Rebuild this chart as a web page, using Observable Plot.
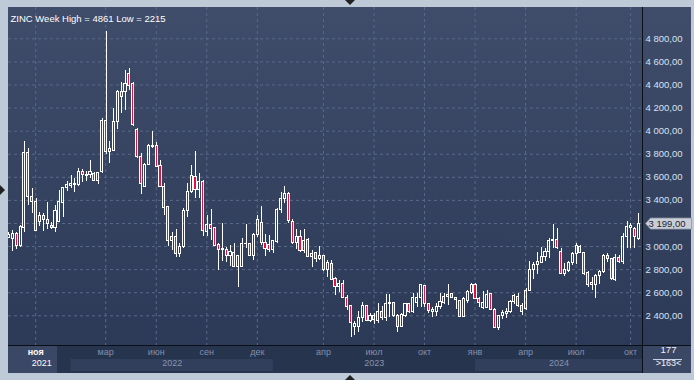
<!DOCTYPE html>
<html><head><meta charset="utf-8">
<script src="https://cdn.jsdelivr.net/npm/d3@7"></script>
<script src="https://cdn.jsdelivr.net/npm/@observablehq/plot@0.6"></script>
<style>
html,body{margin:0;padding:0;background:#bfcad8;}
#wrap{position:relative;width:694px;height:380px;overflow:hidden;background:#bfcad8;font-family:"Liberation Sans",Arial,sans-serif;}
.abs{position:absolute;}
.tri{position:absolute;width:0;height:0;border-style:solid;}
</style></head><body>
<div id="wrap">
  <div class="abs" style="left:8px;top:7px;width:683px;height:338px;background:linear-gradient(#3f4c6a,#2d3a57)"></div>
  <div class="abs" style="left:8px;top:345px;width:683px;height:28px;background:#26344e"></div>
  <div class="abs" style="left:8px;top:346px;width:49px;height:27px;background:#3a4866"></div>
  <div class="abs" style="left:643px;top:346px;width:48px;height:27px;background:#3a4866"></div>
  <div class="abs" style="left:8px;top:345px;width:683px;height:1px;background:#0b0f18"></div>
  <div class="abs" style="left:642px;top:7px;width:1px;height:366px;background:#0b0f18"></div>
  <div class="abs" style="left:653px;top:359px;width:29px;height:1px;background:#c8d2e4"></div>
  <div class="tri" style="left:345px;top:0;border-width:5px 5px 0 5px;border-color:#222 transparent transparent transparent"></div>
  <div class="tri" style="left:345px;top:375px;border-width:0 5px 5px 5px;border-color:transparent transparent #222 transparent"></div>
  <div class="tri" style="left:0;top:185px;border-width:5px 0 5px 5px;border-color:transparent transparent transparent #222"></div>
  <div id="chart" class="abs" style="left:0;top:0"></div>
</div>
<script>
// ---- data ----
const title = "ZINC Week High = 4861 Low = 2215";
const firstBar = "2021-09-13"; // week start of first visible bar
const totalBars = 177;
const opens = [3073,3067,3110,3003,3162,3812,3428,3385,3211,3269,
3231,3182,3162,3211,3379,3509,3523,3540,3535,3650,
3621,3621,3630,3572,3645,4092,3818,3832,4075,4338,
4338,4491,4410,4011,3774,3520,3708,3861,3867,3694,
3520,3341,3047,3081,2937,3000,3312,3471,3601,3491,
3558,3130,3188,3162,3015,2972,2972,2922,2946,2821,
2821,3024,3024,2922,3104,3206,3032,3015,2972,3038,
3318,3413,3451,3217,3029,3087,2960,3058,2908,2943,
2894,2914,2793,2850,2720,2648,2677,2556,2481,2302,
2302,2382,2481,2359,2394,2359,2432,2382,2498,2512,
2394,2307,2394,2498,2432,2512,2556,2654,2504,2432,
2432,2475,2512,2562,2585,2556,2527,2388,2527,2596,
2671,2547,2469,2469,2590,2452,2296,2394,2417,2432,
2518,2562,2489,2455,2619,2801,2842,2859,2908,2951,
3044,3061,2957,2764,2784,2859,2937,2995,2946,2769,
2663,2668,2749,2778,2922,2893,2706,2902,2870,3081,
3159,3153,3067];
const highs = [3119,3139,3125,3182,3910,3852,3506,3413,3298,3283,
3379,3211,3356,3486,3515,3564,3616,3587,3679,3668,
3650,3746,3645,3645,4107,4861,3910,4199,4352,4424,
4525,4540,4424,4020,3803,3722,3881,3997,3904,3746,
3543,3347,3125,3145,3024,3327,3543,3702,3826,3630,
3572,3269,3318,3168,3029,3197,2995,3009,3024,2922,
3067,3191,3029,3110,3269,3347,3104,3096,3053,3327,
3471,3520,3471,3232,3145,3139,3145,3067,2966,2951,
3000,2922,2879,2879,2729,2706,2706,2576,2489,2354,
2440,2518,2489,2417,2417,2504,2481,2585,2585,2518,
2411,2423,2510,2504,2596,2596,2671,2663,2510,2475,
2504,2596,2590,2671,2590,2562,2533,2562,2619,2683,
2677,2562,2613,2619,2596,2460,2403,2446,2460,2533,
2582,2590,2504,2634,2870,2865,2951,2995,2986,3067,
3188,3153,2980,2850,2870,2951,3024,3009,2951,2781,
2735,2755,2793,2928,2937,2899,2928,2922,3110,3217,
3197,3168,3289];
const lows = [3067,2957,2974,2995,3125,3356,3284,3130,3177,3133,
3148,3148,3119,3206,3255,3477,3500,3471,3523,3558,
3564,3587,3564,3535,3630,3795,3722,3824,4014,4150,
4179,4352,4040,3760,3448,3509,3699,3847,3682,3509,
3269,3003,2966,2902,2902,2980,3249,3457,3413,3413,
3087,3087,3052,3000,2793,2873,2865,2827,2816,2648,
2816,2980,2914,2879,3081,3009,2917,2951,2943,3029,
3284,3370,3203,3018,2972,2951,2943,2902,2816,2865,
2879,2787,2735,2706,2576,2605,2547,2446,2215,2229,
2258,2345,2353,2345,2325,2336,2359,2354,2388,2388,
2258,2296,2388,2423,2423,2475,2475,2475,2423,2382,
2394,2452,2498,2489,2547,2452,2382,2382,2510,2585,
2538,2475,2452,2460,2446,2287,2273,2365,2374,2417,
2495,2475,2403,2446,2611,2714,2755,2850,2870,2899,
2986,2974,2755,2743,2778,2836,2842,2937,2749,2648,
2619,2547,2668,2764,2865,2706,2697,2850,2842,2986,
2980,2980,3052];
const closes = [3101,3110,3009,3168,3812,3428,3390,3139,3269,3234,
3194,3162,3304,3385,3509,3529,3543,3530,3650,3616,
3610,3650,3572,3636,4092,3818,3841,4075,4338,4300,
4410,4387,4049,3780,3538,3708,3867,3875,3688,3520,
3335,3052,3087,2937,3000,3312,3471,3607,3491,3558,
3139,3188,3153,3009,2972,2980,2922,2951,2827,2914,
3024,3020,2922,3096,3226,3032,2980,2974,3044,3318,
3413,3451,3220,3029,3087,2960,3044,2908,2937,2894,
2922,2798,2856,2712,2648,2677,2556,2475,2336,2325,
2382,2481,2359,2394,2365,2432,2382,2498,2512,2394,
2307,2403,2498,2432,2556,2556,2663,2504,2440,2452,
2475,2518,2562,2576,2556,2533,2388,2547,2605,2671,
2547,2510,2510,2576,2452,2296,2394,2423,2437,2518,
2570,2489,2437,2619,2801,2842,2865,2908,2951,3044,
3061,2986,2764,2793,2859,2937,3003,2946,2764,2663,
2680,2743,2778,2922,2893,2715,2899,2870,3081,3168,
3177,3081,3199];
const yTicks = [2400,2600,2800,3000,3200,3400,3600,3800,4000,4200,4400,4600,4800];
const monthTickDates = ["2021-11-01","2022-03-01","2022-06-01","2022-09-01","2022-12-01","2023-04-01","2023-07-01","2023-10-01","2024-01-01","2024-04-01","2024-07-01","2024-10-01"];
const monthLabels = ["ноя","мар","июн","сен","дек","апр","июл","окт","янв","апр","июл","окт"];
const years = [2021,2022,2023,2024];

// ---- derived ----
const candles = opens.map((o, i) => ({i, open: o, high: highs[i], low: lows[i], close: closes[i]}));
const bull = candles.filter(d => d.close >= d.open);
const bear = candles.filter(d => d.close < d.open);
const t0 = Date.parse(firstBar + "T00:00:00Z");
const barIndexOf = s => Math.ceil((Date.parse(s + "T00:00:00Z") - t0) / (7 * 864e5));
const xDomain = [-0.1, 162.96];
const monthTicks = monthTickDates.map((d, k) => ({i: barIndexOf(d) - 0.1, label: monthLabels[k], first: k === 0}));
const yearBands = years.map((y, k) => {
  const start = k === 0 ? xDomain[0] : barIndexOf(`${y}-01-01`);
  const end = k === years.length - 1 ? xDomain[1] : barIndexOf(`${y + 1}-01-01`);
  return {label: String(y), start, end, mid: (start + end) / 2, shade: k % 2 === 1, first: k === 0};
});
const last = closes[closes.length - 1];
// the last-price marker hides the axis label it sits on
const axisTicks = yTicks.filter(t => Math.abs(t - last) > 60);
const fmt = d3.formatLocale({decimal: ",", thousands: " ", grouping: [3], currency: ["", ""]}).format(",.2f");
const RED = "#e3123d";
const GRID = "#5a6989";
const LABEL_DX = 6;

const chart = Plot.plot({
  width: 694, height: 380,
  marginLeft: 8, marginRight: 52, marginTop: 7, marginBottom: 35,
  x: {domain: xDomain, axis: null},
  y: {domain: [2142.7, 5071.2]},
  style: {background: "none", fontFamily: "'Liberation Sans', Arial, sans-serif", fontSize: "9.5px", overflow: "visible"},
  marks: [
    Plot.gridY(yTicks, {stroke: GRID, strokeOpacity: 1, strokeDasharray: "3,3"}),
    Plot.gridX(monthTicks.map(d => d.i), {stroke: GRID, strokeOpacity: 1, strokeDasharray: "3,3"}),
    Plot.axisY(axisTicks, {anchor: "right", tickSize: 0, tickPadding: 3, tickFormat: fmt, fill: "#d8e2f2", fontSize: 9.5}),
    // wicks
    Plot.ruleX(candles, {x: "i", y1: "high", y2: d => Math.max(d.open, d.close), stroke: "#fff", strokeWidth: 1, clip: true, shapeRendering: "crispEdges"}),
    Plot.ruleX(candles, {x: "i", y1: d => Math.min(d.open, d.close), y2: "low", stroke: "#fff", strokeWidth: 1, clip: true, shapeRendering: "crispEdges"}),
    // bodies
    Plot.rect(bull, {x1: d => d.i - 0.27, x2: d => d.i + 0.27, y1: "open", y2: "close", fill: "none", stroke: "#fff", strokeWidth: 1, clip: true, shapeRendering: "crispEdges"}),
    Plot.rect(bear, {x1: d => d.i - 0.27, x2: d => d.i + 0.27, y1: "open", y2: "close", fill: RED, stroke: "#fff", strokeWidth: 1, clip: true, shapeRendering: "crispEdges"}),
    // title
    Plot.text([title], {frameAnchor: "top-left", dx: 2, dy: 8, textAnchor: "start", fill: "#ffffff", fontSize: 9.5}),
    // year shading in the bottom bar
    Plot.rect(yearBands.filter(d => d.shade), {x1: "start", x2: "end", fill: "#313f5c",
      render(index, scales, values, dims, ctx, next) {
        const g = next(index, scales, values, dims, ctx);
        const top = dims.height - dims.marginBottom + 14;
        for (const r of g.querySelectorAll("rect")) { r.setAttribute("y", top); r.setAttribute("height", 12); }
        return g;
      }}),
    // month labels
    Plot.text(monthTicks.filter(d => !d.first), {x: "i", text: "label", frameAnchor: "bottom", dy: 9, fill: "#8190ae", fontSize: 9}),
    Plot.text(monthTicks.filter(d => d.first), {x: "i", text: "label", frameAnchor: "bottom", dy: 9, fill: "#ffffff", fontWeight: "bold", fontSize: 9}),
    // year labels
    Plot.text(yearBands.filter(d => !d.first), {x: "mid", text: "label", frameAnchor: "bottom", dy: 20, fill: "#8793b0", fontSize: 9}),
    Plot.text(yearBands.filter(d => d.first), {x: "mid", dx: 2, text: "label", frameAnchor: "bottom", dy: 20, fill: "#ffffff", fontSize: 9}),
    // counters
    Plot.text([String(totalBars)], {frameAnchor: "bottom-right", dx: 26, dy: 7.5, textAnchor: "middle", fill: "#eef2fa", fontSize: 9.5}),
    Plot.text([`>${candles.length}<`], {frameAnchor: "bottom-right", dx: 26, dy: 20.5, textAnchor: "middle", fill: "#eef2fa", fontSize: 9}),
    // last price marker
    Plot.text([last], {y: d => d, frameAnchor: "right", dx: LABEL_DX, textAnchor: "start", text: d => fmt(d), fill: "#1c2232", fontSize: 9.5,
      render(index, scales, values, dims, ctx, next) {
        const g = next(index, scales, values, dims, ctx);
        const y = scales.y(last);
        const x0 = dims.width - dims.marginRight + 3 - LABEL_DX;
        const x1 = dims.width - 3 - LABEL_DX;
        const p = document.createElementNS("http://www.w3.org/2000/svg", "path");
        p.setAttribute("d", `M${x0},${y} L${x0 + 5},${y - 5.5} H${x1} V${y + 5.5} H${x0 + 5} Z`);
        p.setAttribute("fill", "#c9ced7");
        p.setAttribute("stroke", "#8f98a8");
        p.setAttribute("stroke-width", "0.8");
        g.insertBefore(p, g.firstChild);
        return g;
      }})
  ]
});
document.getElementById("chart").appendChild(chart);
</script>
</body></html>
